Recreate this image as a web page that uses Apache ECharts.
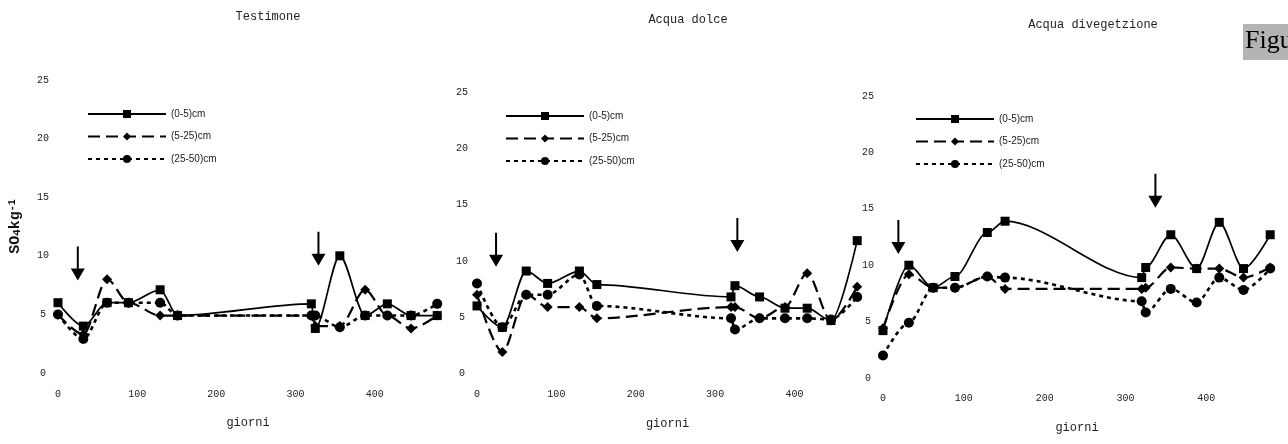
<!DOCTYPE html>
<html>
<head>
<meta charset="utf-8">
<script src="https://cdn.jsdelivr.net/npm/echarts@6/dist/echarts.min.js"></script>
<style>
html,body{margin:0;padding:0;background:#fff;}
#chart{width:1288px;height:444px;}
</style>
</head>
<body>
<div id="chart"></div>
<script>
// ---- data ----
const panelTitles = ['Testimone', 'Acqua dolce', 'Acqua divegetzione'];
const seriesNames = ['(0-5)cm', '(5-25)cm', '(25-50)cm'];
const days = [0, 32, 62, 89, 129, 151, 320, 325, 356, 388, 416, 446, 479];
const xTicks = [0, 100, 200, 300, 400];
const yTicks = [0, 5, 10, 15, 20, 25];

// Testimone
const testimone05   = [6.0, 4.0, 6.0, 6.0, 7.1, 4.9, 5.9, 3.8, 10.0, 4.9, 5.9, 4.9, 4.9];
const testimone525  = [5.0, 3.3, 8.0, 6.0, 4.9, 4.9, 4.9, 4.0, 4.0, 7.1, 4.9, 3.8, 4.9];
const testimone2550 = [5.0, 2.9, 6.0, 6.0, 6.0, 4.9, 4.9, 4.9, 3.9, 4.9, 4.9, 4.9, 5.9];
// Acqua dolce
const dolce05   = [6.0, 4.1, 9.1, 8.0, 9.1, 7.9, 6.8, 7.8, 6.8, 5.8, 5.8, 4.7, 11.8];
const dolce525  = [7.0, 1.9, 7.0, 5.9, 5.9, 4.9, 5.9, 5.9, 4.9, 5.9, 8.9, 4.7, 7.7];
const dolce2550 = [8.0, 4.1, 7.0, 7.0, 8.8, 6.0, 4.9, 3.9, 4.9, 4.9, 4.9, 4.8, 6.8];
// Acqua di vegetazione
const veg05   = [4.2, 10.0, 8.0, 9.0, 12.9, 13.9, 8.9, 9.8, 12.7, 9.7, 13.8, 9.7, 12.7];
const veg525  = [4.4, 9.2, 8.0, 8.0, 9.0, 7.9, 7.9, 8.0, 9.8, 9.7, 9.7, 8.9, 9.8];
const veg2550 = [2.0, 4.9, 8.0, 8.0, 9.0, 8.9, 6.8, 5.8, 7.9, 6.7, 8.9, 7.8, 9.7];

// treatment application arrows: [day, level] per panel
const arrowsTestimone = [[25, 9.35], [329, 10.6]];
const arrowsDolce     = [[24, 11.0], [328, 12.3]];
const arrowsVeg       = [[19, 12.5], [337, 16.6]];

const panelData = [
  [testimone05, testimone525, testimone2550],
  [dolce05, dolce525, dolce2550],
  [veg05, veg525, veg2550]
];
const panelArrows = [arrowsTestimone, arrowsDolce, arrowsVeg];

// ---- layout ----
const grids = [
  {left: 58,  top: 80, width: 380, height: 293},
  {left: 477, top: 92, width: 381, height: 281.5},
  {left: 883, top: 96, width: 388, height: 282}
];
const titlePos = [[268, 11], [688, 14], [1093, 19]];
const legendPos = [[87, 109], [505, 111], [915, 114]];

const monoFont = "'Liberation Mono', 'DejaVu Sans Mono', monospace";
const arrowPath = 'path://M6,0 L8,0 L8,22 L14,22 L7,34 L0,22 L6,22 Z';

const styles = [
  {symbol: 'rect', symbolSize: 9, lineStyle: {type: 'solid', width: 1.7}},
  {symbol: 'diamond', symbolSize: [10, 10], lineStyle: {type: [12, 6], width: 2.2}},
  {symbol: 'circle', symbolSize: 10, lineStyle: {type: [4, 4], width: 2.6}}
];

const series = [];
panelData.forEach((sets, p) => {
  sets.forEach((vals, s) => {
    const st = styles[s];
    const ser = {
      name: seriesNames[s],
      type: 'line',
      xAxisIndex: p,
      yAxisIndex: p,
      data: days.map((d, i) => [d, vals[i]]),
      symbol: st.symbol,
      symbolSize: st.symbolSize,
      smooth: 0.3,
      smoothMonotone: 'x',
      itemStyle: {color: '#000'},
      lineStyle: Object.assign({color: '#000'}, st.lineStyle),
      z: 3 - s,
      animation: false
    };
    if (s === 0) {
      ser.markPoint = {
        silent: true,
        symbol: arrowPath,
        symbolSize: [14, 34],
        itemStyle: {color: '#000'},
        label: {show: false},
        data: panelArrows[p].map(a => ({coord: a}))
      };
    }
    series.push(ser);
  });
});

const option = {
  backgroundColor: '#fff',
  animation: false,
  title: panelTitles.map((t, i) => ({
    text: t,
    left: titlePos[i][0],
    top: titlePos[i][1],
    textAlign: 'center',
    padding: 0,
    textStyle: {fontFamily: monoFont, fontSize: 12, fontWeight: 'normal', color: '#222'}
  })),
  legend: legendPos.map(pos => ({
    data: seriesNames,
    orient: 'vertical',
    left: pos[0],
    top: pos[1],
    padding: 0,
    itemWidth: 78,
    itemHeight: 10,
    itemGap: 12.5,
    selectedMode: false,
    textStyle: {fontFamily: "'Liberation Sans', Arial, sans-serif", fontSize: 10, color: '#222', lineHeight: 10}
  })),
  grid: grids,
  xAxis: grids.map((g, i) => ({
    type: 'value',
    gridIndex: i,
    min: xTicks[0],
    max: 480,
    interval: 100,
    name: 'giorni',
    nameLocation: 'middle',
    nameGap: 44,
    nameTextStyle: {fontFamily: monoFont, fontSize: 12, color: '#222'},
    axisLine: {show: false},
    axisTick: {show: false},
    splitLine: {show: false},
    axisLabel: {
      margin: i === 2 ? 15 : 16,
      showMaxLabel: false,
      fontFamily: monoFont, fontSize: 10, color: '#222',
      formatter: v => (xTicks.indexOf(v) >= 0 ? String(v) : '')
    }
  })),
  yAxis: grids.map((g, i) => ({
    type: 'value',
    gridIndex: i,
    min: yTicks[0],
    max: yTicks[yTicks.length - 1],
    interval: 5,
    name: i === 0 ? '{b|SO}{s|4}{b|kg}{p|-1}' : '',
    nameLocation: 'middle',
    nameGap: 35,
    nameRotate: 90,
    nameTextStyle: {
      rich: {
        b: {fontFamily: monoFont, fontSize: 15, fontWeight: 'bold', color: '#111', lineHeight: 16},
        s: {fontFamily: monoFont, fontSize: 11, fontWeight: 'bold', color: '#111', lineHeight: 11, verticalAlign: 'bottom'},
        p: {fontFamily: monoFont, fontSize: 10, fontWeight: 'bold', color: '#111', lineHeight: 10, verticalAlign: 'top'}
      }
    },
    axisLine: {show: false},
    axisTick: {show: false},
    splitLine: {show: false},
    axisLabel: {
      margin: 15,
      align: 'center',
      fontFamily: monoFont, fontSize: 10, color: '#222'
    }
  })),
  graphic: [
    {type: 'rect', left: 1243, top: 24, shape: {width: 45, height: 36}, style: {fill: '#b4b4b4'}, silent: true},
    {type: 'text', left: 1245, top: 28, style: {text: 'Figu', font: "26px 'Liberation Serif', 'DejaVu Serif', serif", fill: '#000'}, silent: true}
  ],
  series: series
};

const chart = echarts.init(document.getElementById('chart'), null, {renderer: 'canvas'});
chart.setOption(option);
</script>
</body>
</html>
